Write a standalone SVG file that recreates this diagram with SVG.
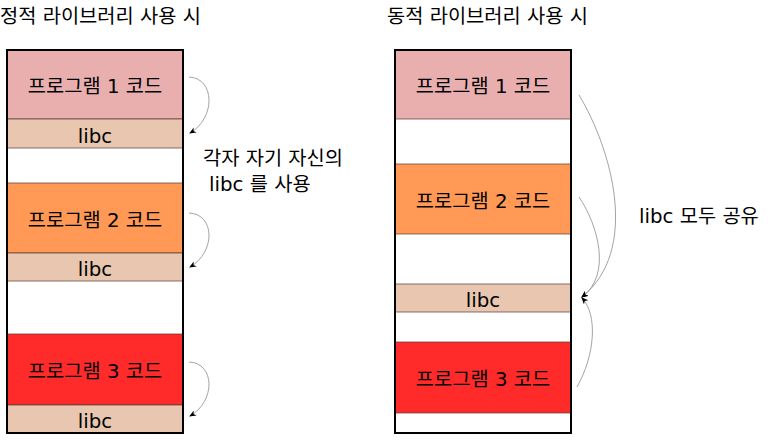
<svg xmlns="http://www.w3.org/2000/svg" width="781" height="448" viewBox="0 0 781 448">
<style>
text{font-family:"DejaVu Sans","Noto Sans CJK KR",sans-serif;font-size:19.8px;fill:#000}
.c{text-anchor:middle}
.sec{stroke:#5a3a30;stroke-opacity:0.7;stroke-width:1}
.p1{fill:#e9afaf}.p2{fill:#ff9955}.p3{fill:#ff2a2a}.lib{fill:#e9c6af}.w{fill:#fff}
.frame{fill:none;stroke:#000;stroke-width:2}
.arr{fill:none;stroke:#8c8c8c;stroke-width:0.8;marker-end:url(#ah)}
</style>
<defs>
<marker id="ah" markerWidth="8" markerHeight="8" refX="6" refY="3" orient="auto" markerUnits="userSpaceOnUse">
<path d="M0,0 L7,3 L0,6 L2,3 Z" fill="#000"/>
</marker>
</defs>
<rect width="781" height="448" fill="#fff"/>
<text x="0" y="23">정적 라이브러리 사용 시</text>
<text x="387" y="23">동적 라이브러리 사용 시</text>

<g id="static">
<g id="s-prog1"><rect class="p1 sec" x="7" y="50" width="176" height="69"/><text class="c" x="95" y="93">프로그램 1 코드</text></g>
<g id="s-libc1"><rect class="lib sec" x="7" y="119" width="176" height="29"/><text class="c" x="95" y="142.5">libc</text></g>
<g id="s-prog2"><rect class="p2 sec" x="7" y="183" width="176" height="70"/><text class="c" x="95" y="227">프로그램 2 코드</text></g>
<g id="s-libc2"><rect class="lib sec" x="7" y="253" width="176" height="28"/><text class="c" x="95" y="275.5">libc</text></g>
<g id="s-prog3"><rect class="p3 sec" x="7" y="334" width="176" height="71"/><text class="c" x="95" y="378">프로그램 3 코드</text></g>
<g id="s-libc3"><rect class="lib sec" x="7" y="405" width="176" height="28"/><text class="c" x="95" y="427.5">libc</text></g>
<rect class="frame" x="7" y="50" width="176" height="383"/>
</g>

<g id="dynamic">
<g id="d-prog1"><rect class="p1 sec" x="395" y="50" width="176" height="69"/><text class="c" x="483" y="93">프로그램 1 코드</text></g>
<g id="d-prog2"><rect class="p2 sec" x="395" y="164" width="176" height="70"/><text class="c" x="483" y="207.5">프로그램 2 코드</text></g>
<g id="d-libc"><rect class="lib sec" x="395" y="284" width="176" height="28"/><text class="c" x="483" y="306.5">libc</text></g>
<g id="d-prog3"><rect class="p3 sec" x="395" y="342" width="176" height="71"/><text class="c" x="483" y="386">프로그램 3 코드</text></g>
<rect class="frame" x="395" y="50" width="176" height="383"/>
</g>

<g id="note-static"><text x="203" y="165">각자 자기 자신의</text><text x="209" y="191">libc 를 사용</text></g>
<g id="note-dynamic"><text x="639" y="223">libc 모두 공유</text></g>

<g id="connectors">
<path class="arr" d="M189,77 C215,78 216,118 190,133"/>
<path class="arr" d="M189,213 C215,214 216,252 190,267"/>
<path class="arr" d="M189,362 C215,363 216,401 190,416"/>
<path class="arr" d="M579,95 C612,150 640,250 582,297"/>
<path class="arr" d="M579,197 C598,225 612,275 582,297"/>
<path class="arr" d="M577,387 C595,355 598,315 582,298"/>
</g>
</svg>
